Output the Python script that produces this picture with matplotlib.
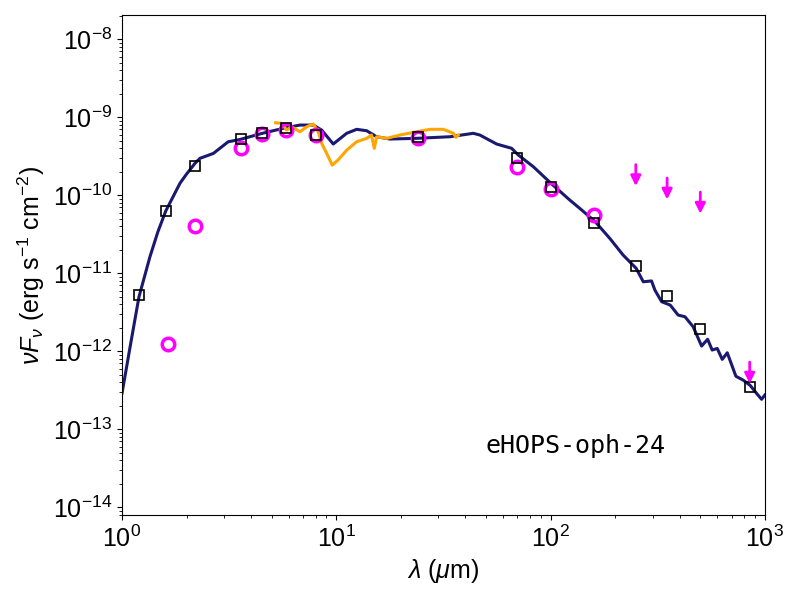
import numpy as np
import matplotlib
matplotlib.use("Agg")
import matplotlib.pyplot as plt
from matplotlib.ticker import LogLocator, NullFormatter

plt.rcParams['font.family'] = ['Liberation Sans', 'DejaVu Sans']
plt.rcParams['mathtext.fontset'] = 'custom'
plt.rcParams['mathtext.rm'] = 'Liberation Sans'
plt.rcParams['mathtext.it'] = 'Liberation Sans:italic'
plt.rcParams['mathtext.bf'] = 'Liberation Sans:bold'

# best-fit model SED
model_wave = [1.0, 1.1, 1.2, 1.35, 1.47, 1.6, 1.865, 2.0, 2.19, 2.31, 2.67, 3.13,
              3.55, 4.52, 5.81, 6.77, 7.81, 8.55, 9.68, 11.18, 12.45, 13.87, 15.43,
              17.8, 23.7, 33.9, 43.6, 46.8, 56.0, 65.8, 70.7, 83.1, 100.4, 123, 137,
              161.7, 189, 218, 251, 271, 296, 307, 330, 362, 394, 424, 463, 507, 541,
              568, 600, 633, 668, 733, 793, 855, 915, 966, 1000]
model_flux = [2.9e-13, 1.3e-12, 5.0e-12, 1.63e-11, 3.4e-11, 6.3e-11, 1.43e-10,
              1.87e-10, 2.57e-10, 2.98e-10, 3.45e-10, 4.86e-10, 5.2e-10, 6.24e-10,
              7.36e-10, 7.96e-10, 7.96e-10, 6.87e-10, 4.55e-10, 6.24e-10, 7.02e-10,
              6.73e-10, 5.64e-10, 5.27e-10, 5.38e-10, 5.64e-10, 6.24e-10, 5.93e-10,
              4.55e-10, 4.01e-10, 3.29e-10, 2.33e-10, 1.43e-10, 8.7e-11, 6.8e-11,
              4.59e-11, 2.81e-11, 1.72e-11, 1.16e-11, 7.8e-12, 8.0e-12, 6.1e-12,
              4.33e-12, 3.92e-12, 2.92e-12, 2.78e-12, 2.07e-12, 1.17e-12, 1.43e-12,
              1.04e-12, 1.09e-12, 7.9e-13, 9.6e-13, 4.8e-13, 4.28e-13, 3.66e-13,
              2.9e-13, 2.43e-13, 2.75e-13]

# IRS spectrum
irs_wave = [5.21, 5.56, 5.87, 6.19, 6.77, 7.28, 7.81, 8.24, 8.55, 9.02, 9.58, 10.2,
            11.2, 12.45, 13.87, 14.6, 15.05, 15.43, 17.2, 19.8, 23.7, 27.4, 31.6,
            35.2, 36.2, 37.1]
irs_flux = [8.53e-10, 8.37e-10, 6.87e-10, 7.58e-10, 6.53e-10, 7.58e-10, 8.2e-10,
            6.53e-10, 4.64e-10, 3.45e-10, 2.44e-10, 2.84e-10, 3.81e-10, 4.86e-10,
            5.38e-10, 5.93e-10, 4.0e-10, 5.64e-10, 5.38e-10, 5.93e-10, 6.53e-10,
            7.02e-10, 7.02e-10, 6.24e-10, 5.55e-10, 5.93e-10]

# model photometry
mphot_wave = [1.2, 1.6, 2.19, 3.6, 4.5, 5.8, 8.0, 24, 70, 100, 160, 250, 350, 500, 850]
mphot_flux = [5.25e-12, 6.3e-11, 2.38e-10, 5.3e-10, 6.3e-10, 7.3e-10, 5.9e-10,
              5.6e-10, 3.0e-10, 1.29e-10, 4.4e-11, 1.24e-11, 5.1e-12, 1.95e-12, 3.5e-13]

# observed photometry
obs_wave = [1.64, 2.19, 3.6, 4.5, 5.8, 8.0, 24, 70, 100, 160]
obs_flux = [1.26e-12, 4.0e-11, 4.0e-10, 6.2e-10, 6.9e-10, 5.9e-10, 5.5e-10,
            2.29e-10, 1.19e-10, 5.6e-11]

# upper limits
ul_wave = [250, 350, 500, 850]
ul_flux = [2.48e-10, 1.67e-10, 1.1e-10, 7.3e-13]

fig = plt.figure(figsize=(8, 6), dpi=100)
ax = fig.add_axes([0.1525, 0.141, 0.8035, 0.834])

ax.plot(model_wave, model_flux, color='#191970', lw=2.2, zorder=2)
ax.plot(irs_wave, irs_flux, color='orange', lw=2.2, zorder=3)
ax.plot(obs_wave, obs_flux, 'o', mfc='none', mec='magenta', ms=9, mew=2.5, zorder=4)
ax.plot(mphot_wave, mphot_flux, 's', mfc='none', mec='black', ms=7, mew=1.2, zorder=5)
for w, f in zip(ul_wave, ul_flux):
    ax.annotate('', xy=(w, f * 0.53), xytext=(w, f),
                arrowprops=dict(arrowstyle='-|>', color='magenta', lw=2,
                                mutation_scale=15, shrinkA=0, shrinkB=0), zorder=6)

ax.set_xscale('log')
ax.set_yscale('log')
ax.set_xlim(1, 1000)
ax.set_ylim(7.9e-15, 2.05e-8)
ax.yaxis.set_major_locator(LogLocator(base=10, numticks=15))
ax.yaxis.set_minor_locator(LogLocator(base=10, subs=np.arange(2, 10), numticks=15))
ax.yaxis.set_minor_formatter(NullFormatter())
ax.tick_params(labelsize=18)

ax.set_xlabel(r'$\lambda$ ($\mu$m)', fontsize=18)
ax.set_ylabel(r'$\nu F_\nu$ (erg s$^{-1}$ cm$^{-2}$)', fontsize=18)
ax.text(0.706, 0.1385, 'eHOPS-oph-24', transform=ax.transAxes, ha='center',
        va='center', fontsize=18, family=['DejaVu Sans Mono'])

fig.savefig('out.png', dpi=100)
